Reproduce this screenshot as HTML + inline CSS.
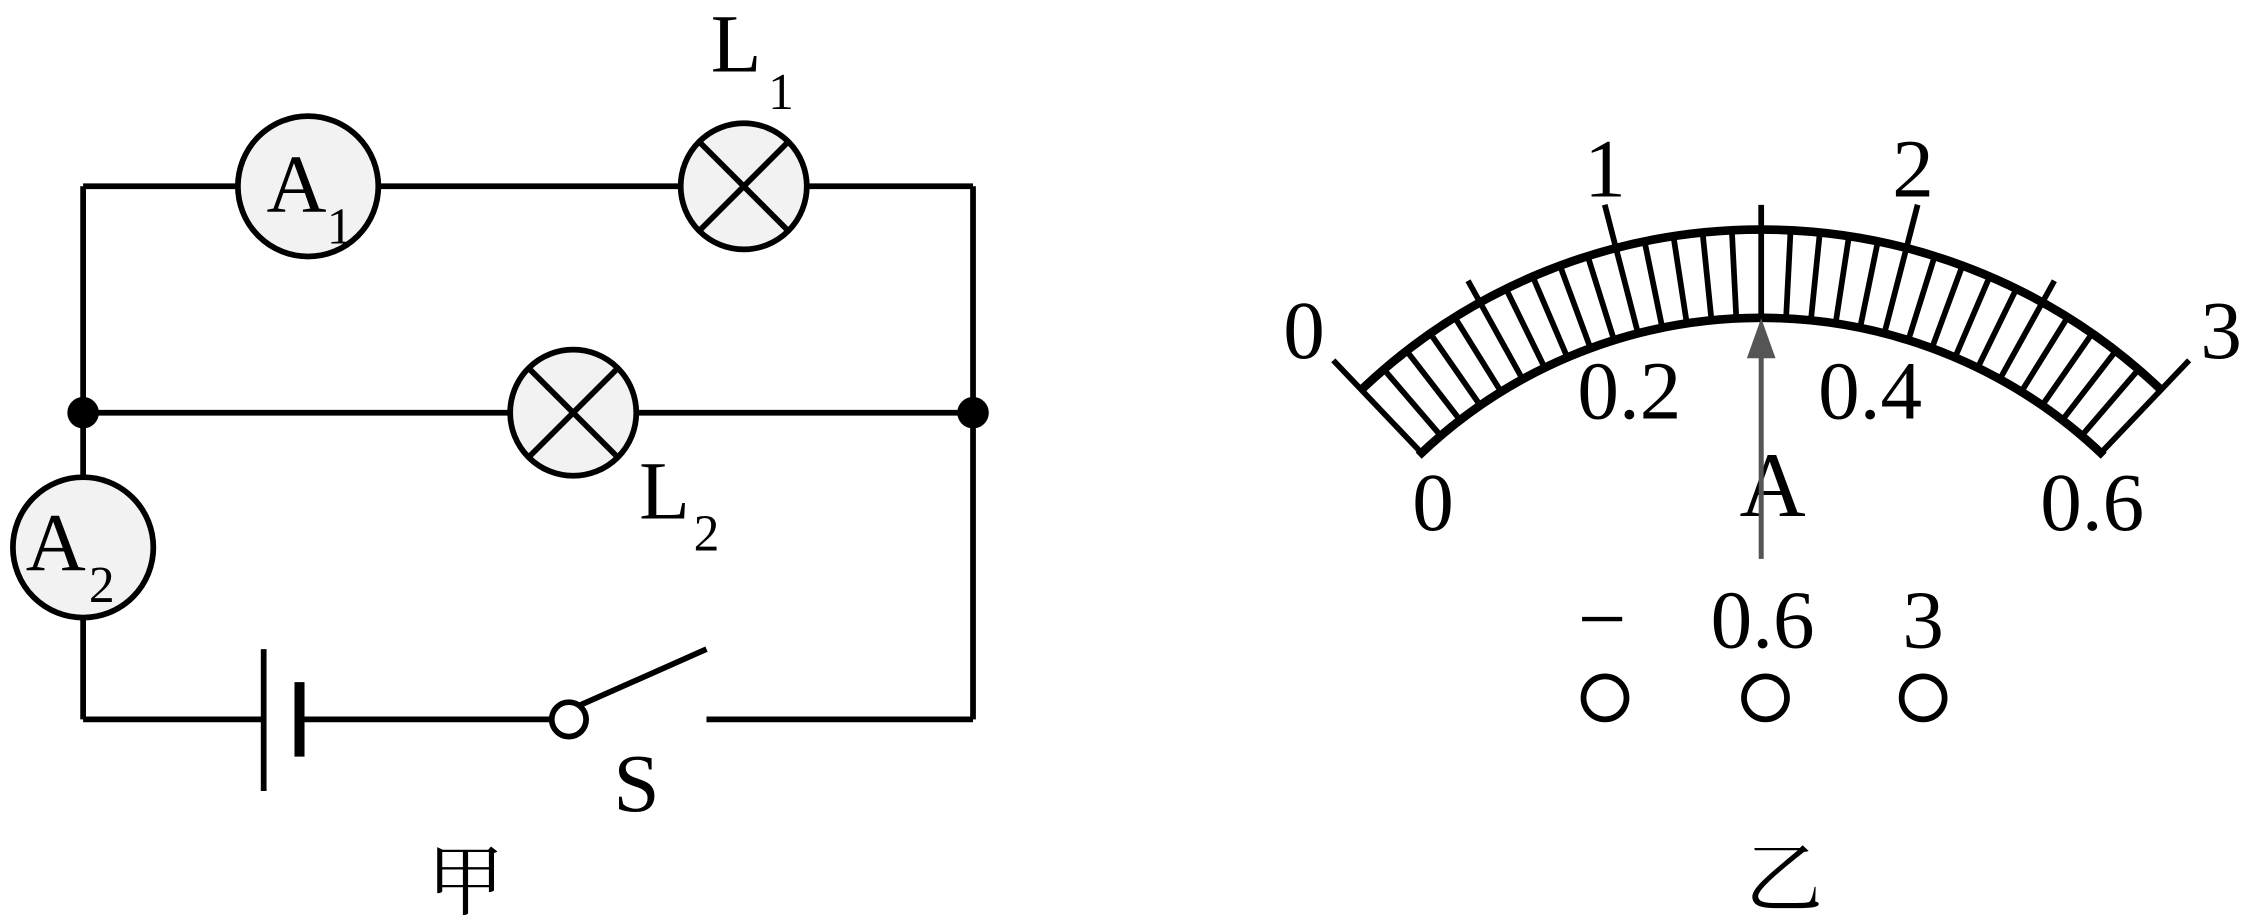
<!DOCTYPE html>
<html><head><meta charset="utf-8"><style>
html,body{margin:0;padding:0;background:#fff;}
svg{display:block;}
text{font-family:"Liberation Serif","Noto Serif CJK SC",serif;fill:#000;}
</style></head><body>
<svg width="2247" height="920" viewBox="0 0 1568 642" preserveAspectRatio="none" xmlns="http://www.w3.org/2000/svg">
<g stroke="#000" stroke-width="4" fill="none">
<line x1="58" y1="130" x2="166" y2="130"/>
<line x1="264" y1="130" x2="475" y2="130"/>
<line x1="563" y1="130" x2="679" y2="130"/>
<line x1="58" y1="130" x2="58" y2="333"/>
<line x1="679" y1="130" x2="679" y2="502"/>
<line x1="58" y1="288" x2="356" y2="288"/>
<line x1="444" y1="288" x2="679" y2="288"/>
<line x1="58" y1="431" x2="58" y2="502"/>
<line x1="58" y1="502" x2="184" y2="502"/>
<line x1="209" y1="502" x2="385" y2="502"/>
<line x1="493" y1="502" x2="679" y2="502"/>
<line x1="405" y1="492" x2="493" y2="453"/>
<line x1="184" y1="453" x2="184" y2="552"/>
<line x1="209" y1="476" x2="209" y2="528" stroke-width="7"/>
<circle cx="397" cy="502" r="12" fill="#fff"/>
<circle cx="215" cy="130" r="49" fill="#f2f2f2"/>
<circle cx="519" cy="130" r="44" fill="#f2f2f2"/>
<circle cx="400" cy="288" r="44" fill="#f2f2f2"/>
<circle cx="58" cy="382" r="49" fill="#f2f2f2"/>
<line x1="488" y1="99" x2="550" y2="161"/><line x1="550" y1="99" x2="488" y2="161"/>
<line x1="369" y1="257" x2="431" y2="319"/><line x1="431" y1="257" x2="369" y2="319"/>
</g>
<circle cx="58" cy="288" r="11" fill="#000"/>
<circle cx="679" cy="288" r="11" fill="#000"/>
<text x="186" y="148" font-size="58">A</text><text x="228" y="170" font-size="36">1</text>
<text x="18" y="398" font-size="58">A</text><text x="62" y="420" font-size="36">2</text>
<text x="496" y="50" font-size="58">L</text><text x="536" y="76" font-size="36">1</text>
<text x="446" y="362" font-size="58">L</text><text x="484" y="384" font-size="36">2</text>
<text x="428" y="566" font-size="58">S</text>
<text x="298" y="634" font-size="54">甲</text>

<g stroke="#000" fill="none">
<path d="M950 272 A404 404 0 0 1 1508 272" stroke-width="6"/>
<path d="M990 318 A345 345 0 0 1 1468 318" stroke-width="6"/>
<g stroke-width="4">
<line x1="1229" y1="220" x2="1229" y2="132" transform="rotate(-43.6 1229 565)"/>
<line x1="1229" y1="220" x2="1229" y2="132" transform="rotate(43.6 1229 565)"/>
<line x1="1229" y1="220" x2="1229" y2="161" transform="rotate(-40.6 1229 565)"/>
<line x1="1229" y1="220" x2="1229" y2="161" transform="rotate(-37.7 1229 565)"/>
<line x1="1229" y1="220" x2="1229" y2="161" transform="rotate(-34.8 1229 565)"/>
<line x1="1229" y1="220" x2="1229" y2="161" transform="rotate(-31.9 1229 565)"/>
<line x1="1229" y1="220" x2="1229" y2="143" transform="rotate(-29 1229 565)"/>
<line x1="1229" y1="220" x2="1229" y2="161" transform="rotate(-26.1 1229 565)"/>
<line x1="1229" y1="220" x2="1229" y2="161" transform="rotate(-23.2 1229 565)"/>
<line x1="1229" y1="220" x2="1229" y2="161" transform="rotate(-20.3 1229 565)"/>
<line x1="1229" y1="220" x2="1229" y2="161" transform="rotate(-17.4 1229 565)"/>
<line x1="1229" y1="220" x2="1229" y2="129" transform="rotate(-14.5 1229 565)"/>
<line x1="1229" y1="220" x2="1229" y2="161" transform="rotate(-11.6 1229 565)"/>
<line x1="1229" y1="220" x2="1229" y2="161" transform="rotate(-8.7 1229 565)"/>
<line x1="1229" y1="220" x2="1229" y2="161" transform="rotate(-5.8 1229 565)"/>
<line x1="1229" y1="220" x2="1229" y2="161" transform="rotate(-2.9 1229 565)"/>
<line x1="1229" y1="220" x2="1229" y2="143"/>
<line x1="1229" y1="220" x2="1229" y2="161" transform="rotate(2.9 1229 565)"/>
<line x1="1229" y1="220" x2="1229" y2="161" transform="rotate(5.8 1229 565)"/>
<line x1="1229" y1="220" x2="1229" y2="161" transform="rotate(8.7 1229 565)"/>
<line x1="1229" y1="220" x2="1229" y2="161" transform="rotate(11.6 1229 565)"/>
<line x1="1229" y1="220" x2="1229" y2="129" transform="rotate(14.5 1229 565)"/>
<line x1="1229" y1="220" x2="1229" y2="161" transform="rotate(17.4 1229 565)"/>
<line x1="1229" y1="220" x2="1229" y2="161" transform="rotate(20.3 1229 565)"/>
<line x1="1229" y1="220" x2="1229" y2="161" transform="rotate(23.2 1229 565)"/>
<line x1="1229" y1="220" x2="1229" y2="161" transform="rotate(26.1 1229 565)"/>
<line x1="1229" y1="220" x2="1229" y2="143" transform="rotate(29 1229 565)"/>
<line x1="1229" y1="220" x2="1229" y2="161" transform="rotate(31.9 1229 565)"/>
<line x1="1229" y1="220" x2="1229" y2="161" transform="rotate(34.8 1229 565)"/>
<line x1="1229" y1="220" x2="1229" y2="161" transform="rotate(37.7 1229 565)"/>
<line x1="1229" y1="220" x2="1229" y2="161" transform="rotate(40.6 1229 565)"/>
</g>
<circle cx="1120" cy="487" r="15" stroke-width="4"/>
<circle cx="1232" cy="487" r="15" stroke-width="4"/>
<circle cx="1342" cy="487" r="15" stroke-width="4"/>
<line x1="1104" y1="432" x2="1132" y2="432" stroke-width="3"/>
</g>
<g text-anchor="middle" font-size="58">
<text x="910" y="250">0</text>
<text x="1550" y="250">3</text>
<text x="1120" y="137">1</text>
<text x="1335" y="137">2</text>
<text x="1137" y="292">0.2</text>
<text x="1305" y="292">0.4</text>
<text x="1000" y="370">0</text>
<text x="1460" y="370">0.6</text>
<text x="1237" y="360" font-size="64">A</text>
<text x="1230" y="452">0.6</text>
<text x="1342" y="452">3</text>
<text x="1245" y="632" font-size="54">乙</text>
</g>
<line x1="1229" y1="390" x2="1229" y2="245" stroke="#555" stroke-width="3.5"/>
<polygon points="1229,222 1219,250 1239,250" fill="#555"/>
</svg>
</body></html>
